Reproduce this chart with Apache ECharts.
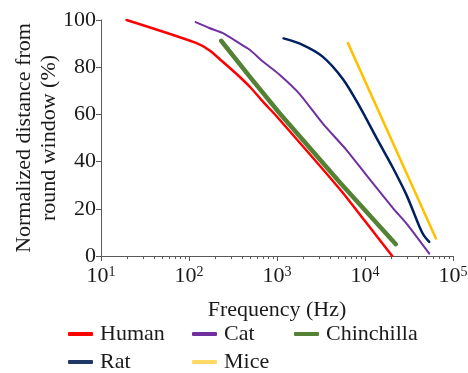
<!DOCTYPE html>
<html>
<head>
<meta charset="utf-8">
<script src="https://cdn.jsdelivr.net/npm/echarts@6/dist/echarts.min.js"></script>
<style>
  html, body { margin: 0; padding: 0; background: #fff; }
  #chart { width: 468px; height: 373px; }
</style>
</head>
<body>
<div id="chart"></div>
<script>
// Frequency (Hz) / normalized distance (%)
const humanFreq = [19.5, 120, 170, 240, 350, 500, 700, 1000, 5100, 10000, 20400];
const humanPos = [100, 90.3, 87.2, 82.4, 77, 71.4, 65.2, 59, 28.6, 14.8, 0];

const catFreq = [119, 170, 240, 372, 490, 692, 1070, 1800, 3300, 6170, 10000, 21000, 30000, 53700];
const catPos = [99.1, 96.6, 94.5, 90.2, 87.4, 82.4, 76.8, 68.7, 56.2, 44.9, 35, 20.1, 13.5, 1];

const chinchillaFreq = [232, 500, 1070, 5130, 22400];
const chinchillaPos = [91.2, 75.6, 60.5, 31.4, 5];

const ratFreq = [1186, 1950, 3300, 5600, 8700, 14000, 20000, 29500, 41700, 47000, 53700];
const ratPos = [92.2, 89.5, 84.5, 75, 63.3, 49, 38.5, 26, 12.3, 8.5, 6];

const miceFreq = [6400, 64000];
const micePos = [90.2, 7.4];

const minorTickValues = [2, 3, 4, 5, 6, 7, 8, 9];
const decades = [10, 100, 1000, 10000];

const FONT = '"Liberation Serif", "Times New Roman", serif';

const pairs = (xs, ys) => xs.map((x, i) => [x, ys[i]]);

const minorTicks = [];
decades.forEach(d => minorTickValues.forEach(m => minorTicks.push(d * m)));

const chart = echarts.init(document.getElementById('chart'));

const legendBase = {
  orient: 'vertical',
  top: 323,
  padding: 0,
  itemGap: 6,
  itemWidth: 25,
  itemHeight: 4,
  icon: 'roundRect',
  textStyle: { fontFamily: FONT, fontSize: 22, color: '#1a1a1a', lineHeight: 22, padding: [0, 0, 0, 2] }
};

const line = (name, data, color, width, smooth) => ({
  name,
  type: 'line',
  data,
  symbol: 'none',
  smooth: smooth,
  lineStyle: { color, width, cap: 'round' },
  itemStyle: { color }
});

chart.setOption({
  animation: false,
  backgroundColor: '#fff',
  grid: { left: 101, right: 15, top: 20, bottom: 117, containLabel: false, outerBoundsMode: 'none' },
  legend: [
    Object.assign({}, legendBase, {
      left: 68,
      data: [
        { name: 'Human', itemStyle: { color: '#ff0000' } },
        { name: 'Rat', itemStyle: { color: '#203864' } }
      ]
    }),
    Object.assign({}, legendBase, {
      left: 192,
      data: [
        { name: 'Cat', itemStyle: { color: '#7030a0' } },
        { name: 'Mice', itemStyle: { color: '#ffd966' } }
      ]
    }),
    Object.assign({}, legendBase, {
      left: 294,
      data: [{ name: 'Chinchilla', itemStyle: { color: '#548235' } }]
    })
  ],
  xAxis: [
    {
      type: 'log',
      logBase: 10,
      min: 10,
      max: 100000,
      name: 'Frequency (Hz)',
      nameLocation: 'middle',
      nameGap: 43,
      nameMoveOverlap: false,
      nameTextStyle: { fontFamily: FONT, fontSize: 22, color: '#1a1a1a' },
      axisLine: { lineStyle: { color: '#595959', width: 1 } },
      axisTick: { length: 5, lineStyle: { color: '#595959' } },
      splitLine: { show: false },
      axisLabel: {
        margin: 9,
        color: '#1a1a1a',
        formatter: v => '{b|10}{s|' + Math.round(Math.log10(v)) + '}',
        rich: {
          b: { fontFamily: FONT, fontSize: 22, color: '#1a1a1a', lineHeight: 22 },
          s: { fontFamily: FONT, fontSize: 14, color: '#1a1a1a', verticalAlign: 'top', lineHeight: 14 }
        }
      }
    },
    {
      type: 'log',
      logBase: 10,
      min: 10,
      max: 100000,
      position: 'bottom',
      axisLine: { show: false },
      axisLabel: { show: false },
      splitLine: { show: false },
      axisTick: { show: true, length: 3, customValues: minorTicks, lineStyle: { color: '#595959' } }
    }
  ],
  yAxis: {
    type: 'value',
    min: 0,
    max: 100,
    interval: 20,
    name: 'Normalized distance from\nround window (%)',
    nameLocation: 'middle',
    nameGap: 39,
    nameMoveOverlap: false,
    nameTextStyle: { fontFamily: FONT, fontSize: 22, color: '#1a1a1a', lineHeight: 25 },
    axisLine: { show: true, lineStyle: { color: '#595959', width: 1 } },
    axisTick: { show: true, length: 5, lineStyle: { color: '#595959' } },
    splitLine: { show: false },
    axisLabel: { margin: 5, fontFamily: FONT, fontSize: 22, color: '#1a1a1a' }
  },
  series: [
    line('Human', pairs(humanFreq, humanPos), '#ff0000', 2.5, 0.3),
    line('Cat', pairs(catFreq, catPos), '#7030a0', 2, 0.2),
    line('Chinchilla', pairs(chinchillaFreq, chinchillaPos), '#548235', 4.5, false),
    line('Rat', pairs(ratFreq, ratPos), '#002060', 2.5, 0.3),
    line('Mice', pairs(miceFreq, micePos), '#ffc000', 2.5, false)
  ]
});
</script>
</body>
</html>
